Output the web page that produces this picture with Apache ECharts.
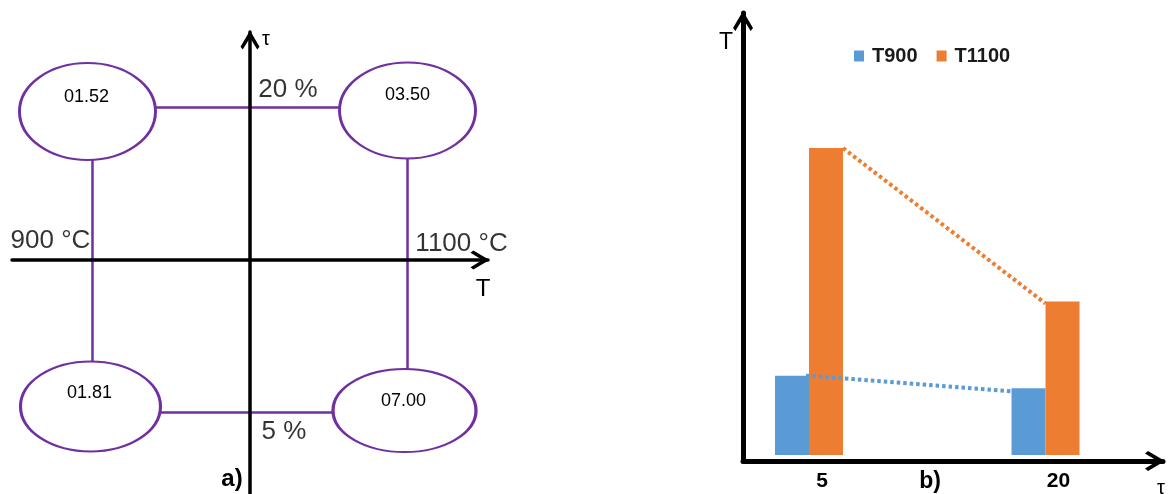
<!DOCTYPE html>
<html><head><meta charset="utf-8">
<script src="https://cdn.jsdelivr.net/npm/echarts@6.0.0/dist/echarts.min.js"></script>
<style>html,body{margin:0;padding:0;background:#fff}#c{width:1174px;height:494px}</style>
</head><body><div id="c"></div>
<script>
// ---- data ----
const temperatures = [900, 1100];
const temperatureLabels = ['900 °C', '1100 °C'];
const durations = [5, 20];
const durationLabels = ['5 %', '20 %'];
const seriesNames = ['T900', 'T1100'];
const valuesT900 = [1.81, 1.52];   // at tau = 5, 20
const valuesT1100 = [7.00, 3.50];  // at tau = 5, 20

// ---- styling constants ----
const FONT = "'Liberation Sans', Arial, sans-serif";
const PURPLE = '#7030A0';
const BLUE = '#5B9BD5';
const ORANGE = '#ED7D31';
const BAR_W = 34;
const CHEVRON = 'path://M50,0 L100,85 L88,100 L50,38 L12,100 L0,85 Z';
const T_MID = 1000, D_MID = 12.5;
// ellipse style per [temperatureIndex][durationIndex]
const ellipseSize = [[[140, 90], [136, 97]], [[143, 83], [136, 96]]];
const ellipseShift = [[[-2, -6], [-5, 4]], [[-3, -2], [0, 3]]];
const ellipseTextShift = [[[-1, -13], [-1, -14]], [[-1, -9], [0, -15]]];
const tempLabelOffset = [[-42, -19], [54, -16]];
const durLabelOffset = [[34, 19], [38, -18]];

const valuesByTemp = [valuesT900, valuesT1100];

// ---- left panel series ----
const ellipseData = [];
temperatures.forEach((t, ti) => {
  durations.forEach((d, di) => {
    ellipseData.push({
      value: [t - T_MID, d - D_MID, valuesByTemp[ti][di]],
      symbolSize: ellipseSize[ti][di],
      symbolOffset: ellipseShift[ti][di],
      label: { offset: ellipseTextShift[ti][di] }
    });
  });
});
const rectPath = [
  [temperatures[0], durations[1]], [temperatures[1], durations[1]],
  [temperatures[1], durations[0]], [temperatures[0], durations[0]],
  [temperatures[0], durations[1]]
].map(p => [p[0] - T_MID, p[1] - D_MID]);

const axisLabelData = [];
temperatures.forEach((t, i) => axisLabelData.push({
  value: [t - T_MID, 0], name: temperatureLabels[i], label: { offset: tempLabelOffset[i] }
}));
durations.forEach((d, i) => axisLabelData.push({
  value: [0, d - D_MID], name: durationLabels[i], label: { offset: durLabelOffset[i] }
}));

const noAxisBits = { axisTick: { show: false }, axisLabel: { show: false }, splitLine: { show: false } };

const option = {
  backgroundColor: '#fff',
  animation: false,
  textStyle: { fontFamily: FONT },
  grid: [
    { left: 12, top: 32, width: 476, height: 462 },
    { left: 743, top: 13, width: 420, height: 448 }
  ],
  xAxis: [
    Object.assign({
      type: 'value', gridIndex: 0, min: -151.1, max: 151.1, z: 5,
      axisLine: { show: true, onZero: true, lineStyle: { color: '#000', width: 3.5 },
        symbol: ['none', CHEVRON], symbolSize: [22, 19], symbolOffset: [0, -8] }
    }, noAxisBits),
    {
      type: 'value', gridIndex: 1, min: 0.815, max: 27.45, z: 5,
      axisLine: { show: true, onZero: false, lineStyle: { color: '#000', width: 5 },
        symbol: ['none', CHEVRON], symbolSize: [21, 20], symbolOffset: [0, -8] },
      axisTick: { show: false }, splitLine: { show: false },
      axisLabel: { show: true, customValues: durations, margin: 10, padding: [0, 0, 0, 26],
        color: '#000', fontWeight: 'bold', fontSize: 21, fontFamily: FONT }
    }
  ],
  yAxis: [
    Object.assign({
      type: 'value', gridIndex: 0, min: -11.51, max: 11.21, z: 5,
      axisLine: { show: true, onZero: true, lineStyle: { color: '#000', width: 3.5 },
        symbol: ['none', CHEVRON], symbolSize: [22, 19], symbolOffset: [0, -8] }
    }, noAxisBits),
    Object.assign({
      type: 'value', gridIndex: 1, min: -0.137, max: 10.08, z: 5,
      axisLine: { show: true, onZero: false, lineStyle: { color: '#000', width: 5 },
        symbol: ['none', CHEVRON], symbolSize: [21, 20], symbolOffset: [0, -8] }
    }, noAxisBits)
  ],
  legend: {
    data: seriesNames, left: 854, top: 46, padding: 0, icon: 'rect', itemWidth: 10, itemHeight: 11,
    itemGap: 19, selectedMode: false,
    textStyle: { fontFamily: FONT, fontWeight: 'bold', fontSize: 20, color: '#1a1a1a', padding: [0, 0, 0, 3] }
  },
  series: [
    {
      type: 'line', xAxisIndex: 0, yAxisIndex: 0, data: rectPath, symbol: 'none', z: 1,
      lineStyle: { color: PURPLE, width: 2.5 }, silent: true
    },
    {
      type: 'scatter', xAxisIndex: 0, yAxisIndex: 0, data: ellipseData, z: 3,
      symbol: 'path://M0,50 A50,50 0 1,1 100,50 A50,50 0 1,1 0,50 Z',
      itemStyle: { color: '#fff', borderColor: PURPLE, borderWidth: 2.5, opacity: 1 },
      label: { show: true, position: 'inside', color: '#000', fontSize: 18, fontFamily: FONT,
        formatter: p => p.value[2].toFixed(2).padStart(5, '0') },
      silent: true
    },
    {
      type: 'scatter', xAxisIndex: 0, yAxisIndex: 0, data: axisLabelData, z: 6,
      symbolSize: 1, itemStyle: { color: 'rgba(0,0,0,0)' },
      label: { show: true, position: 'inside', color: '#000', fontSize: 26, fontFamily: FONT,
        textBorderWidth: 0, formatter: p => p.name },
      silent: true
    },
    {
      name: seriesNames[0], type: 'bar', xAxisIndex: 1, yAxisIndex: 1, barWidth: BAR_W, barGap: '0%',
      data: durations.map((d, i) => [d, valuesT900[i]]), itemStyle: { color: BLUE }, z: 2
    },
    {
      name: seriesNames[1], type: 'bar', xAxisIndex: 1, yAxisIndex: 1, barWidth: BAR_W, barGap: '0%',
      data: durations.map((d, i) => [d, valuesT1100[i]]), itemStyle: { color: ORANGE }, z: 2
    },
    {
      type: 'custom', xAxisIndex: 1, yAxisIndex: 1, z: 4, silent: true,
      data: [[durations[0], valuesT900[0], durations[1], valuesT900[1], 0],
             [durations[0], valuesT1100[0], durations[1], valuesT1100[1], 1]],
      encode: { x: [0, 2], y: [1, 3] },
      renderItem: function (params, api) {
        const s = api.value(4);
        const p1 = api.coord([api.value(0), api.value(1)]);
        const p2 = api.coord([api.value(2), api.value(3)]);
        const x1 = s === 0 ? p1[0] - 3 : p1[0] + BAR_W;
        const x2 = s === 0 ? p2[0] - BAR_W : p2[0];
        return {
          type: 'line',
          shape: { x1: x1, y1: p1[1], x2: x2, y2: p2[1] + (s === 0 ? 3 : 2) },
          style: { stroke: s === 0 ? BLUE : ORANGE, lineWidth: 4, lineDash: [3.5, 3], fill: null }
        };
      }
    }
  ],
  graphic: [
    { type: 'text', x: 266, y: 39, style: { text: 'τ', font: '20px ' + FONT, fill: '#000', align: 'center', verticalAlign: 'middle' } },
    { type: 'text', x: 483, y: 289, style: { text: 'T', font: '24px ' + FONT, fill: '#000', align: 'center', verticalAlign: 'middle' } },
    { type: 'text', x: 232, y: 479, style: { text: 'a)', font: 'bold 24px ' + FONT, fill: '#000', align: 'center', verticalAlign: 'middle' } },
    { type: 'text', x: 726, y: 43, style: { text: 'T', font: '23px ' + FONT, fill: '#000', align: 'center', verticalAlign: 'middle' } },
    { type: 'text', x: 930, y: 482, style: { text: 'b)', font: 'bold 23px ' + FONT, fill: '#000', align: 'center', verticalAlign: 'middle' } },
    { type: 'text', x: 1161, y: 488, style: { text: 'τ', font: '20px ' + FONT, fill: '#000', align: 'center', verticalAlign: 'middle' } }
  ]
};

const chart = echarts.init(document.getElementById('c'), null, { renderer: 'canvas' });
chart.setOption(option);
</script>
</body></html>
